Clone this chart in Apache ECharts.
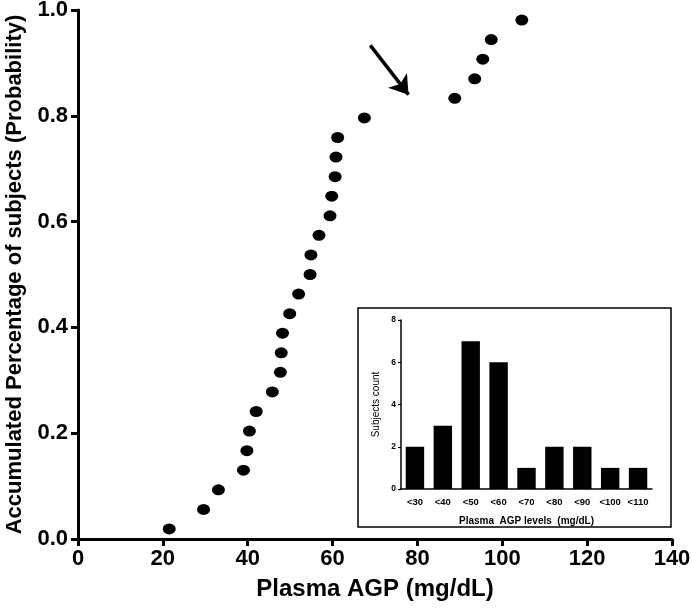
<!DOCTYPE html>
<html>
<head>
<meta charset="utf-8">
<script src="https://cdn.jsdelivr.net/npm/echarts@6/dist/echarts.min.js"></script>
<style>
  html, body { margin: 0; padding: 0; background: #fff; }
  #main { width: 692px; height: 613px; }
</style>
</head>
<body>
<div id="main"></div>
<script>
// cumulative curve, plasma AGP (mg/dL) vs accumulated probability
const agpValues = [21.5, 29.6, 33.1, 39.0, 39.8, 40.4, 42.0, 45.8, 47.7, 47.9, 48.2, 49.9,
  52.0, 54.7, 54.9, 56.8, 59.4, 59.8, 60.6, 60.8, 61.2, 67.5, 88.8, 93.5, 95.4, 97.4, 104.6];
const probValues = [0.019, 0.056, 0.093, 0.130, 0.167, 0.204, 0.241, 0.278, 0.315, 0.352, 0.389, 0.426,
  0.463, 0.500, 0.537, 0.574, 0.611, 0.648, 0.685, 0.722, 0.759, 0.796, 0.833, 0.870, 0.907, 0.944, 0.981];
const xTicks = [0, 20, 40, 60, 80, 100, 120, 140];
const yTicks = [0, 0.2, 0.4, 0.6, 0.8, 1.0];

// arrow annotation (data coords)
const arrowFrom = [68.9, 0.933];
const arrowTo = [77.9, 0.84];

// inset histogram
const levelCats = ['<30', '<40', '<50', '<60', '<70', '<80', '<90', '<100', '<110'];
const subjectCounts = [2, 3, 7, 6, 1, 2, 2, 1, 1];

const font = '"Liberation Sans", Arial, sans-serif';
const chart = echarts.init(document.getElementById('main'));

const points = agpValues.map((v, i) => [v, probValues[i]]);

chart.setOption({
  animation: false,
  backgroundColor: '#fff',
  textStyle: { fontFamily: font, color: '#000' },
  graphic: [{
    type: 'rect',
    z: 0,
    shape: { x: 358, y: 308, width: 313, height: 219 },
    style: { fill: '#fff', stroke: '#000', lineWidth: 1.5 }
  }],
  grid: [
    { left: 78, top: 10, right: 20, bottom: 74, outerBoundsMode: 'none', containLabel: false },
    { left: 401, top: 320, right: 40, bottom: 124, outerBoundsMode: 'none', containLabel: false }
  ],
  xAxis: [{
    gridIndex: 0,
    type: 'value',
    min: xTicks[0],
    max: xTicks[xTicks.length - 1],
    interval: 20,
    name: 'Plasma AGP (mg/dL)',
    nameLocation: 'middle',
    nameGap: 38,
    nameTextStyle: { fontSize: 24, fontWeight: 'bold', color: '#000', fontFamily: font },
    axisLine: { lineStyle: { color: '#000', width: 3 } },
    axisTick: { length: 7, lineStyle: { color: '#000', width: 3 } },
    axisLabel: { fontSize: 22, fontWeight: 'bold', color: '#000', margin: 9, fontFamily: font },
    splitLine: { show: false }
  }, {
    gridIndex: 1,
    type: 'category',
    data: levelCats,
    name: 'Plasma  AGP levels  (mg/dL)',
    nameLocation: 'middle',
    nameGap: 27,
    nameTextStyle: { fontSize: 10, fontWeight: 'bold', color: '#000', fontFamily: font },
    axisLine: { lineStyle: { color: '#000', width: 1.5 } },
    axisTick: { show: false },
    axisLabel: { fontSize: 9.5, fontWeight: 'bold', color: '#000', margin: 8, interval: 0, fontFamily: font }
  }],
  yAxis: [{
    gridIndex: 0,
    type: 'value',
    min: yTicks[0],
    max: yTicks[yTicks.length - 1],
    interval: 0.2,
    name: 'Accumulated Percentage of subjects (Probability)',
    nameLocation: 'middle',
    nameGap: 52,
    nameTextStyle: { fontSize: 22, fontWeight: 'bold', color: '#000', fontFamily: font },
    axisLine: { show: true, lineStyle: { color: '#000', width: 3 } },
    axisTick: { show: true, length: 7, lineStyle: { color: '#000', width: 3 } },
    axisLabel: {
      fontSize: 22, fontWeight: 'bold', color: '#000', margin: 10, fontFamily: font,
      formatter: v => v.toFixed(1)
    },
    splitLine: { show: false }
  }, {
    gridIndex: 1,
    type: 'value',
    min: 0,
    max: 8,
    interval: 2,
    name: 'Subjects count',
    nameLocation: 'middle',
    nameGap: 20,
    nameTextStyle: { fontSize: 10, color: '#000', fontFamily: font },
    axisLine: { show: true, lineStyle: { color: '#000', width: 1.5 } },
    axisTick: { show: true, length: 3, lineStyle: { color: '#000', width: 1.2 } },
    axisLabel: { fontSize: 8.5, fontWeight: 'bold', color: '#000', margin: 5, fontFamily: font },
    splitLine: { show: false }
  }],
  series: [{
    type: 'scatter',
    xAxisIndex: 0,
    yAxisIndex: 0,
    data: points,
    symbol: 'circle',
    symbolSize: [13, 11],
    itemStyle: { color: '#000', opacity: 1 },
    markLine: {
      silent: true,
      symbol: ['none', 'arrow'],
      symbolSize: 18,
      label: { show: false },
      lineStyle: { color: '#000', width: 3.5, type: 'solid', opacity: 1 },
      data: [[{ coord: arrowFrom }, { coord: arrowTo }]]
    }
  }, {
    type: 'bar',
    xAxisIndex: 1,
    yAxisIndex: 1,
    data: subjectCounts,
    barWidth: '66%',
    itemStyle: { color: '#000' }
  }]
});
</script>
</body>
</html>
